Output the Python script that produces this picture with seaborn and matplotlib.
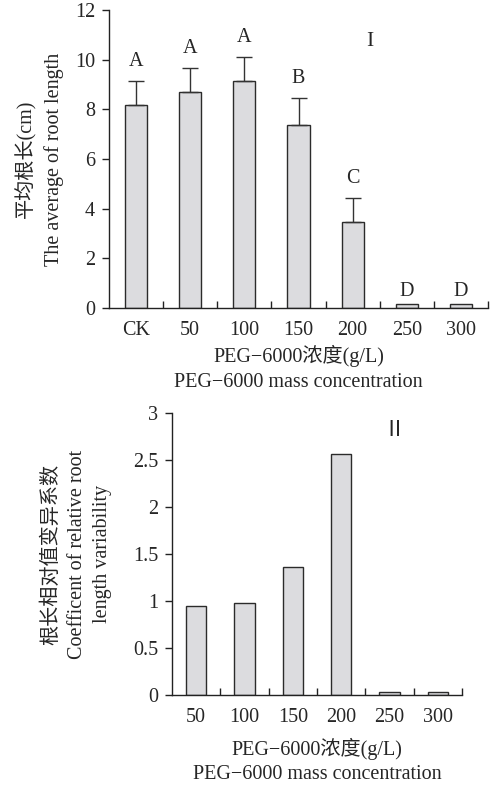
import pandas as pd
import numpy as np
import seaborn as sns
import matplotlib.pyplot as plt

# data
groups1 = ['CK', '50', '100', '150', '200', '250', '300']
root_len = [8.18, 8.70, 9.15, 7.35, 3.46, 0.15, 0.15]
root_err = [0.97, 0.98, 0.95, 1.10, 0.97, 0.0, 0.0]
letters = ['A', 'A', 'A', 'B', 'C', 'D', 'D']

groups2 = ['50', '100', '150', '200', '250', '300']
cv = [0.95, 0.98, 1.36, 2.56, 0.03, 0.03]

sns.set_theme(style='ticks')
fam = ['Liberation Serif', 'Noto Sans CJK SC']
plt.rcParams['font.family'] = fam
plt.rcParams['axes.unicode_minus'] = True

df1 = pd.DataFrame({'g': groups1, 'v': root_len, 'e': root_err, 'l': letters})
df2 = pd.DataFrame({'g': groups2, 'v': cv})

fig = plt.figure(figsize=(5, 7.85), dpi=100)
ax1 = fig.add_axes([0.218, 0.6076, 0.758, 0.3797])
ax2 = fig.add_axes([0.344, 0.1146, 0.580, 0.3593])

bar_kw = dict(color='#dcdcdf', edgecolor='#2b2b2b', linewidth=1.0, saturation=1)
fs = 14.5

# ---- panel I
sns.barplot(data=df1, x='g', y='v', ax=ax1, width=0.41, **bar_kw)
xs = [p.get_x() + p.get_width() / 2 for p in ax1.patches]
for x, (_, r) in zip(xs, df1.iterrows()):
    if r['e'] > 0:
        ax1.errorbar(x, r['v'], yerr=[[0], [r['e']]], fmt='none', ecolor='#333333',
                     elinewidth=1.0, capsize=6, capthick=1.0)
        y = r['v'] + r['e'] + 0.4
    else:
        y = r['v'] + 0.12
    ax1.text(x, y, r['l'], ha='center', va='bottom', fontsize=fs, family=fam)
ax1.set_ylim(0, 12)
ax1.set_yticks(range(0, 13, 2))
ax1.set_xlim(-0.5, len(groups1) - 0.5)
ax1.text(4.32, 10.75, 'I', fontsize=fs + 1, ha='center', va='center', family=fam)
ax1.set_ylabel('平均根长(cm)\nThe average of root length', fontsize=fs, linespacing=1.5, labelpad=8)
ax1.set_xlabel('PEG−6000浓度(g/L)\nPEG−6000 mass concentration', fontsize=fs, linespacing=1.45, labelpad=4)

# ---- panel II
sns.barplot(data=df2, x='g', y='v', ax=ax2, width=0.42, **bar_kw)
ax2.set_ylim(0, 3)
ax2.set_yticks([0, 0.5, 1, 1.5, 2, 2.5, 3])
ax2.set_yticklabels(['0', '0.5', '1', '1.5', '2', '2.5', '3'])
ax2.set_xlim(-0.5, len(groups2) - 0.5)
ax2.text(4.1, 2.8, 'Ⅱ', fontsize=fs + 1, ha='center', va='center', family=fam)
ax2.set_ylabel('根长相对值变异系数\nCoefficent of relative root\nlength variability', fontsize=fs,
               linespacing=1.45, labelpad=15)
ax2.set_xlabel('PEG−6000浓度(g/L)\nPEG−6000 mass concentration', fontsize=fs, linespacing=1.4, labelpad=8)

for ax, n in [(ax1, len(groups1)), (ax2, len(groups2))]:
    sns.despine(ax=ax)
    ax.spines['left'].set_linewidth(1.0)
    ax.spines['bottom'].set_linewidth(1.0)
    ax.spines['left'].set_color('#222222')
    ax.spines['bottom'].set_color('#222222')
    ax.set_xticks(np.arange(0.5, n - 0.4, 1), minor=True)
    ax.tick_params(axis='x', which='major', length=0, pad=9, labelsize=fs)
    ax.tick_params(axis='x', which='minor', direction='in', length=5, width=1.0, color='#222222')
    ax.tick_params(axis='y', direction='out', length=5, width=1.0, pad=5, labelsize=fs, color='#222222')
    for lab in ax.get_xticklabels() + ax.get_yticklabels():
        lab.set_family(fam)

fig.savefig('out.png', dpi=100)
